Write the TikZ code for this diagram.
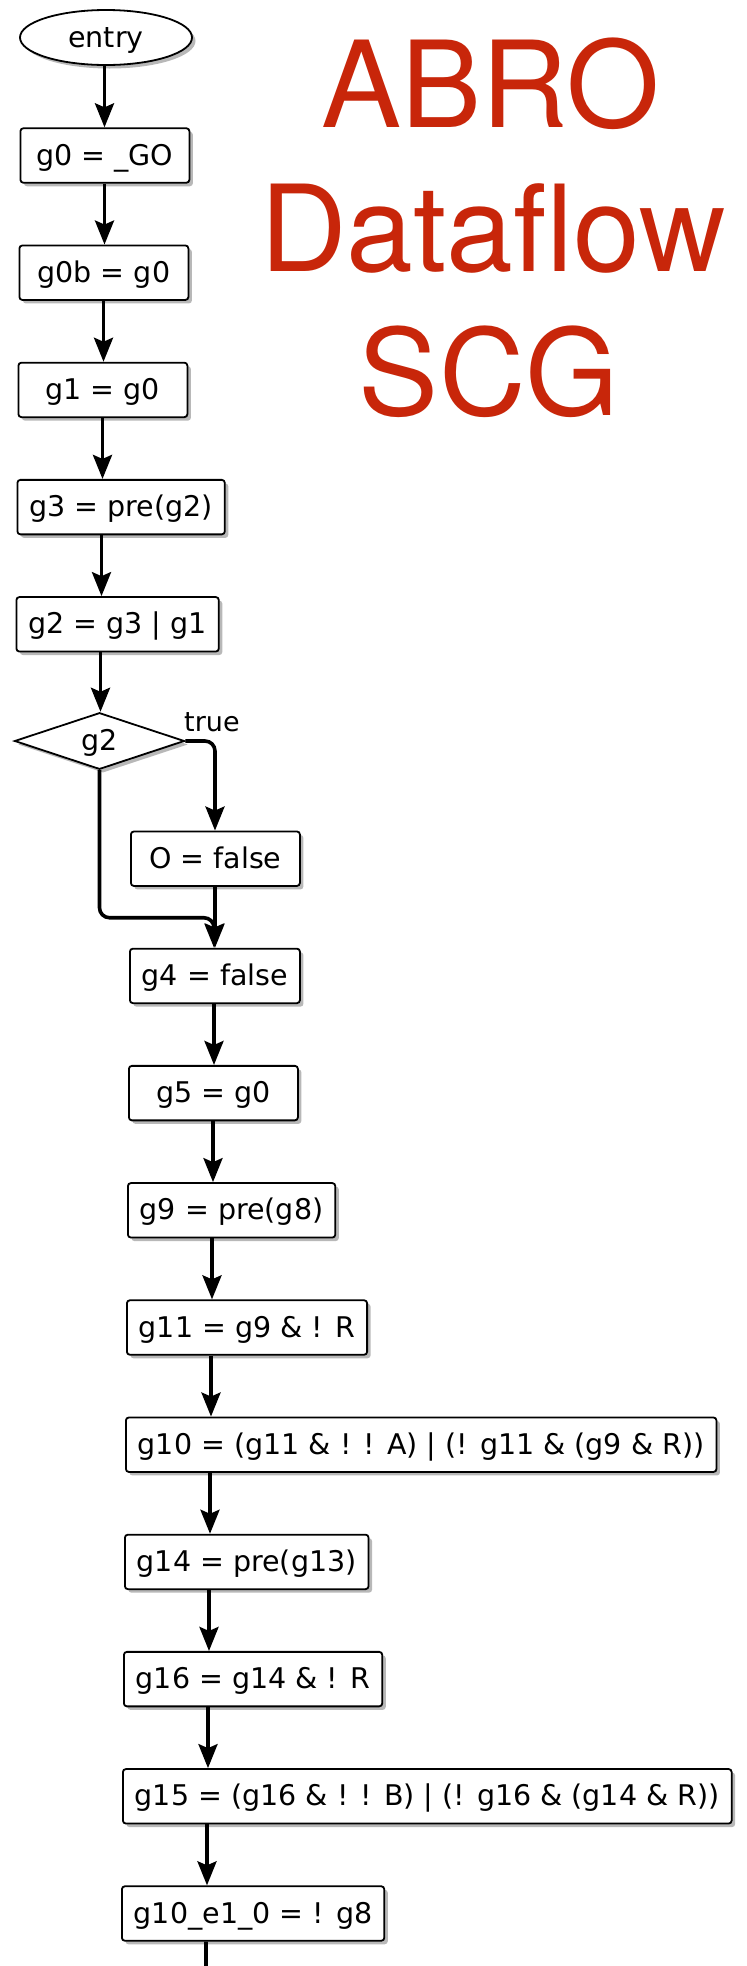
\documentclass[tikz,border=0pt]{standalone}
\usepackage{fontspec}
\newfontfamily\boxfont{DejaVu Sans}
\newfontfamily\titlefont{TeX Gyre Heros}
\usetikzlibrary{arrows.meta,shapes.geometric,shadows,calc}
\definecolor{titlered}{RGB}{200,38,10}
\tikzset{
  flow/.style={line width=3.6pt, -{Stealth[length=24pt,width=19pt,inset=4pt]}},
  boxshadow/.style={drop shadow={shadow xshift=3.5pt,shadow yshift=-3.5pt,fill=black,opacity=0.28}},
  txt/.style={font=\boxfont\fontsize{28.5pt}{34pt}\selectfont, text height=19pt, text depth=0pt},
  stmt/.style={txt, draw, line width=1.8pt, rounded corners=3pt, fill=white,
    minimum height=54.5pt, minimum width=169pt, inner xsep=12pt, inner ysep=0pt, anchor=west, boxshadow},
  cond/.style={txt, draw, line width=1.8pt, shape=diamond, fill=white, inner sep=0pt,
    aspect=3, minimum width=170pt, minimum height=56.6pt, boxshadow},
  startnode/.style={txt, draw, line width=1.8pt, shape=ellipse, fill=white, inner sep=0pt,
    minimum width=172pt, minimum height=55pt, boxshadow},
  title/.style={font=\titlefont\fontsize{120pt}{144pt}\selectfont, text=titlered, anchor=base, inner sep=0pt}
}
% straight vertical connector leaving a box 85pt from its left side
\newcommand\flowedge[2]{\draw[flow] ($(#1.south west)+(85,0)$) coordinate (src) -- (src |- #2.north);}
\begin{document}
\begin{tikzpicture}[x=1pt,y=-1pt]
  \fill[white] (0,0) rectangle (747,1966);
  \useasboundingbox (0,0) rectangle (747,1966);

  % heading
  \node[title] (t1) at (491,127) {ABRO};
  \node[title] (t2) at (493,271) {Dataflow};
  \node[title] (t3) at (489,415) {SCG};

  % nodes of the graph
  \node[startnode] (entry) at (106,37.5) {entry};
  \node[stmt] (g0)  at (19.5,155.5) {g0 = \_GO};
  \node[stmt] (g0b) at (18.5,272.7) {g0b = g0};
  \node[stmt] (g1)  at (17.5,389.9) {g1 = g0};
  \node[stmt] (g3)  at (16.5,507.1) {g3 = pre(g2)};
  \node[stmt] (g2)  at (15.5,624.3) {g2 = g3 | g1};
  \node[cond] (c2)  at (99.5,741) {g2};
  \node[stmt] (o)   at (130,858.7) {O = false};
  \node[stmt] (g4)  at (129,975.9) {g4 = false};
  \node[stmt] (g5)  at (128,1093.1) {g5 = g0};
  \node[stmt] (g9)  at (127,1210.3) {g9 = pre(g8)};
  \node[stmt] (g11) at (126,1327.5) {g11 = g9 \& ! R};
  \node[stmt] (g10) at (125,1444.7) {g10 = (g11 \& ! ! A) | (! g11 \& (g9 \& R))};
  \node[stmt] (g14) at (124,1561.9) {g14 = pre(g13)};
  \node[stmt] (g16) at (123,1679.1) {g16 = g14 \& ! R};
  \node[stmt] (g15) at (122,1796.3) {g15 = (g16 \& ! ! B) | (! g16 \& (g14 \& R))};
  \node[stmt] (g10e) at (121,1913.5) {g10\_e1\_0 = ! g8};
  \node[txt, anchor=base west, inner sep=0pt, font=\boxfont\fontsize{27pt}{32pt}\selectfont] (lbl) at (184,731.5) {true};
  \coordinate (tail) at (270,1988);

  % connectors
  \draw[flow] ($(g0.north west)+(85,0)$) coordinate (dst) (dst |- entry.south) -- (dst);
  \flowedge{g0}{g0b}
  \flowedge{g0b}{g1}
  \flowedge{g1}{g3}
  \flowedge{g3}{g2}
  \flowedge{g2}{c2}
  \draw[flow, rounded corners=10pt] (c2.east) -| ($(o.north west)+(85,0)$);
  \draw[flow, rounded corners=10pt] (c2.south) |- ($(g4.north west)+(85,-30)$) -- ($(g4.north west)+(85,0)$);
  \flowedge{o}{g4}
  \flowedge{g4}{g5}
  \flowedge{g5}{g9}
  \flowedge{g9}{g11}
  \flowedge{g11}{g10}
  \flowedge{g10}{g14}
  \flowedge{g14}{g16}
  \flowedge{g16}{g15}
  \flowedge{g15}{g10e}
  \draw[line width=3.6pt, rounded corners=14pt] ($(g10e.south west)+(85,0)$) |- (tail);
\end{tikzpicture}
\end{document}
